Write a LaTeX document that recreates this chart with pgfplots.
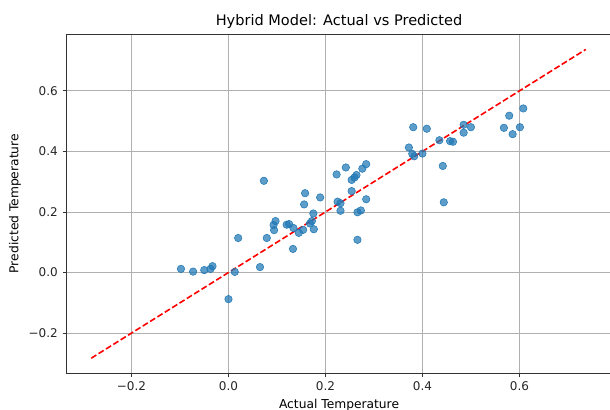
\documentclass[border=0pt]{standalone}
\usepackage{fontspec}
\setmainfont{DejaVu Sans}
\usepackage{pgfplots}
\pgfplotsset{compat=1.18}
\definecolor{mplblue}{HTML}{1F77B4}
\definecolor{gridgray}{HTML}{B0B0B0}
\definecolor{spine}{HTML}{333333}

\begin{document}
\begin{tikzpicture}
\begin{axis}[
    at={(0,0)}, anchor=south west,
    scale only axis, width=408.75pt, height=254.5pt,
    xmin=-0.334, xmax=0.790, ymin=-0.333, ymax=0.788,
    axis line style={spine, line width=0.7pt},
    xtick={-0.2,0,0.2,0.4,0.6}, xticklabels={−0.2,0.0,0.2,0.4,0.6},
    ytick={-0.2,0,0.2,0.4,0.6}, yticklabels={−0.2,0.0,0.2,0.4,0.6},
    tick align=outside, major tick length=3pt,
    tick style={spine, line width=0.6pt},
    xtick pos=bottom, ytick pos=left,
    ticklabel style={font=\fontsize{9}{11}\selectfont, text=black!85},
    grid=major, major grid style={gridgray, line width=0.6pt},
    title={Hybrid Model: Actual vs Predicted},
    title style={font=\fontsize{10.9}{13}\selectfont, yshift=-5.5pt},
    xlabel={Actual Temperature}, ylabel={Predicted Temperature},
    label style={font=\fontsize{9.2}{11}\selectfont},
    xlabel style={yshift=1pt},
    ylabel style={yshift=-1pt},
  ]
  % scatter of actual vs predicted
  \addplot[only marks, mark=*, mark size=2.8pt, mplblue, mark options={draw=none, fill opacity=0.72}] coordinates {
    (-0.098,0.012) (-0.073,0.003) (-0.050,0.008) (-0.037,0.012) (-0.033,0.021)
    (0.000,-0.088) (0.013,0.002) (0.020,0.114) (0.065,0.018) (0.073,0.303)
    (0.079,0.114) (0.093,0.157) (0.097,0.170) (0.094,0.140) (0.120,0.158)
    (0.125,0.160) (0.133,0.078) (0.134,0.147) (0.145,0.131) (0.154,0.141)
    (0.156,0.225) (0.158,0.262) (0.168,0.162) (0.172,0.170) (0.175,0.195)
    (0.176,0.143) (0.189,0.248) (0.223,0.324) (0.242,0.347) (0.225,0.234)
    (0.231,0.229) (0.231,0.204) (0.254,0.306) (0.254,0.269) (0.260,0.314)
    (0.264,0.322) (0.276,0.343) (0.284,0.358) (0.284,0.242) (0.266,0.199)
    (0.273,0.205) (0.266,0.108) (0.372,0.413) (0.381,0.480) (0.379,0.392)
    (0.383,0.384) (0.400,0.393) (0.409,0.475) (0.435,0.437) (0.442,0.352)
    (0.444,0.232) (0.457,0.434) (0.463,0.432) (0.485,0.488) (0.485,0.462)
    (0.500,0.480) (0.568,0.478) (0.579,0.518) (0.586,0.457) (0.601,0.480)
    (0.608,0.542)
  };
  % identity line
  \addplot[red, line width=1.2pt, dash pattern=on 4.5pt off 2pt] coordinates {(-0.283,-0.283) (0.737,0.737)};
\end{axis}
\pgfresetboundingbox
\path (-49.9pt,-26.8pt) rectangle (407.6pt,280pt);
\end{tikzpicture}
\end{document}
